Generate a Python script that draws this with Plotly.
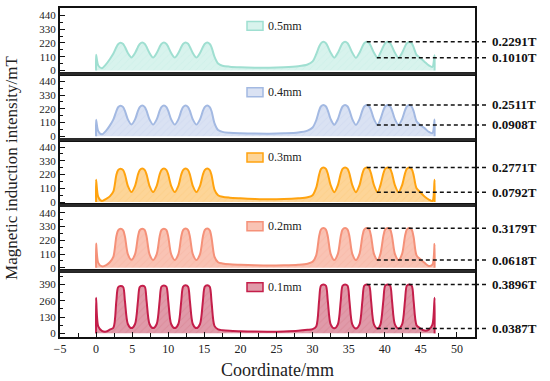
import plotly.graph_objects as go
from plotly.subplots import make_subplots

# ---------------- data ----------------
coord_mm = [0, 0, 0.3, 0.8, 1.4, 1.9,
            2.4, 2.8, 3.05, 3.4, 3.75, 4.0, 4.4, 4.9,
            5.4, 5.8, 6.05, 6.4, 6.75, 7.0, 7.4, 7.9,
            8.4, 8.8, 9.05, 9.4, 9.75, 10.0, 10.4, 10.9,
            11.4, 11.8, 12.05, 12.4, 12.75, 13.0, 13.4, 13.9,
            14.4, 14.8, 15.05, 15.4, 15.75, 16.0, 16.4, 16.9,
            17.5, 18.5, 20, 22, 24, 26, 28, 29.3, 30.0,
            30.5, 30.9, 31.15, 31.5, 31.85, 32.1, 32.5, 33.0,
            33.5, 33.9, 34.15, 34.5, 34.85, 35.1, 35.5, 36.0,
            36.5, 36.9, 37.15, 37.5, 37.85, 38.1, 38.5, 39.0,
            39.4, 39.8, 40.05, 40.4, 40.75, 41.0, 41.4, 41.9,
            42.4, 42.8, 43.05, 43.4, 43.75, 44.0, 44.4, 44.9,
            45.5, 46.1, 46.6, 46.9, 46.9]

b_05mm = [0, 125, 40, 18, 50, 90,
          135, 185, 210, 222, 212, 188, 140, 104,
          140, 188, 212, 223, 212, 188, 140, 103,
          140, 188, 212, 223, 212, 188, 140, 103,
          140, 188, 212, 224, 213, 188, 140, 103,
          140, 188, 212, 224, 212, 185, 110, 55,
          38, 30, 25, 22, 22, 26, 34, 48, 72,
          130, 190, 217, 229, 218, 192, 142, 102,
          142, 192, 218, 229, 218, 192, 142, 101,
          142, 192, 218, 229, 218, 192, 142, 101,
          142, 192, 218, 229, 218, 192, 142, 101,
          142, 192, 218, 228, 216, 185, 125, 100,
          70, 40, 28, 122, 0]

b_04mm = [0, 131, 40, 15, 45, 85,
          135, 200, 232, 245, 233, 203, 135, 94,
          135, 203, 233, 246, 233, 203, 135, 93,
          135, 203, 233, 246, 233, 203, 135, 93,
          135, 203, 233, 246, 233, 203, 135, 93,
          135, 203, 233, 246, 233, 200, 105, 50,
          35, 28, 24, 21, 20, 23, 30, 45, 70,
          128, 205, 238, 251, 238, 207, 137, 92,
          137, 207, 238, 251, 238, 207, 137, 91,
          137, 207, 238, 251, 238, 207, 137, 91,
          137, 207, 238, 251, 238, 207, 137, 91,
          137, 207, 238, 250, 236, 200, 120, 90,
          65, 35, 25, 133, 0]

b_03mm = [0, 179, 40, 8, 25, 45,
          85, 215, 255, 267, 256, 220, 130, 80,
          130, 220, 256, 268, 256, 220, 130, 80,
          130, 220, 256, 268, 256, 220, 130, 80,
          130, 220, 256, 268, 256, 220, 130, 80,
          130, 220, 256, 268, 256, 215, 100, 55,
          42, 35, 30, 25, 22, 24, 30, 38, 55,
          115, 218, 264, 277, 265, 228, 135, 79,
          135, 228, 265, 277, 265, 228, 135, 79,
          135, 228, 265, 277, 265, 228, 135, 79,
          135, 228, 265, 277, 265, 228, 135, 79,
          135, 228, 265, 277, 262, 215, 110, 80,
          45, 20, 8, 179, 0]

b_02mm = [0, 194, 40, 12, 22, 45,
          90, 250, 300, 312, 300, 250, 110, 64,
          110, 250, 302, 313, 302, 250, 110, 63,
          110, 250, 302, 313, 302, 250, 110, 63,
          110, 250, 302, 314, 302, 250, 110, 63,
          110, 250, 302, 314, 300, 240, 90, 45,
          35, 28, 24, 20, 18, 20, 25, 33, 48,
          100, 252, 306, 318, 306, 254, 112, 62,
          112, 254, 306, 318, 306, 254, 112, 62,
          112, 254, 306, 318, 306, 254, 112, 62,
          112, 254, 306, 318, 306, 254, 112, 62,
          112, 254, 306, 318, 304, 245, 100, 70,
          40, 15, 25, 190, 0]

b_01mm = [0, 284, 55, 20, 14, 30,
          45, 255, 368, 378, 370, 255, 75, 42,
          75, 258, 370, 380, 372, 258, 75, 42,
          75, 258, 372, 382, 372, 258, 75, 42,
          75, 258, 372, 383, 372, 258, 75, 42,
          75, 258, 372, 384, 372, 250, 60, 32,
          25, 20, 17, 14, 13, 15, 20, 28, 34,
          55, 260, 380, 390, 380, 262, 72, 40,
          72, 262, 380, 390, 380, 262, 72, 39,
          72, 262, 380, 390, 380, 262, 72, 39,
          72, 262, 380, 390, 380, 262, 72, 39,
          72, 262, 380, 390, 378, 255, 65, 40,
          22, 30, 70, 284, 0]

series_names = ["0.5mm", "0.4mm", "0.3mm", "0.2mm", "0.1mm"]
series_values = [b_05mm, b_04mm, b_03mm, b_02mm, b_01mm]
peak_T = [0.2291, 0.2511, 0.2771, 0.3179, 0.3896]
valley_T = [0.1010, 0.0908, 0.0792, 0.0618, 0.0387]
peak_labels = ["0.2291T", "0.2511T", "0.2771T", "0.3179T", "0.3896T"]
valley_labels = ["0.1010T", "0.0908T", "0.0792T", "0.0618T", "0.0387T"]
x_ticks = [-5, 0, 5, 10, 15, 20, 25, 30, 35, 40, 45, 50]

# ---------------- style ----------------
line_colors = ["#9fdfd1", "#a3b9e2", "#ffa30f", "#f59179", "#c41e4a"]
fill_colors = ["#d8f3ed", "#dae2f3", "#fdd598", "#f9c3b4", "#e09aa9"]
hatch_colors = ["#c8eee5", "#cbd6ee", "#fccb7e", "#f6b3a1", "#d6818f"]
y_ranges = [[-27, 500]] * 4 + [[-29, 496]]
y_tickvals = [[0, 110, 220, 330, 440]] * 4 + [[0, 130, 260, 390]]
y_minor = [55] * 4 + [65]
legend_offsets_px = [18, 18.5, 18, 21, 16]

SERIF = "Liberation Serif, Times New Roman, serif"
L, R, T, B = 60, 75, 6, 44
W, H = 550, 381
plot_h = H - T - B
plot_w = W - L - R

fig = make_subplots(rows=5, cols=1, shared_xaxes=True, vertical_spacing=0)

shapes = []
annotations = []
for i, (name, vals) in enumerate(zip(series_names, series_values)):
    row = i + 1
    fig.add_trace(go.Scatter(
        x=coord_mm, y=vals, mode="lines", name=name,
        line=dict(color=line_colors[i], width=2, shape="spline", smoothing=0.8),
        fill="tozeroy", fillcolor=fill_colors[i],
        fillpattern=dict(shape="/", bgcolor=fill_colors[i], fgcolor=hatch_colors[i],
                         size=5, solidity=0.2),
        showlegend=False, hoverinfo="skip",
    ), row=row, col=1)

    axn = "" if row == 1 else str(row)
    fig.update_yaxes(range=y_ranges[i], tickvals=y_tickvals[i], ticks="inside", ticklen=5,
                     tickwidth=1.2, tickcolor="#111",
                     minor=dict(ticks="inside", ticklen=3, dtick=y_minor[i], tickcolor="#111",
                                tick0=0),
                     showline=True, linecolor="#111", linewidth=2, mirror=True,
                     showgrid=False, zeroline=False,
                     tickfont=dict(family=SERIF, size=11, color="#222"),
                     row=row, col=1)

    # dashed reference lines (peak and valley)
    pk = peak_T[i] * 1000
    vl = valley_T[i] * 1000
    for yv, x_start in ((pk, 37.5), (vl, 38.9)):
        shapes.append(dict(type="line", xref="x" + axn, yref="y" + axn,
                           x0=x_start, x1=52.5, y0=yv, y1=yv,
                           line=dict(color="#111", width=1.5, dash="4px,3px")))
        shapes.append(dict(type="line", xref="paper", yref="y" + axn,
                           x0=1.0, x1=1.028, y0=yv, y1=yv,
                           line=dict(color="#111", width=1.5, dash="4px,3px")))
    annotations.append(dict(xref="paper", yref="y" + axn, x=1.035, y=pk,
                            text="<b>" + peak_labels[i] + "</b>", showarrow=False,
                            xanchor="left", yanchor="middle",
                            font=dict(family=SERIF, size=13, color="#111")))
    annotations.append(dict(xref="paper", yref="y" + axn, x=1.035, y=vl,
                            text="<b>" + valley_labels[i] + "</b>", showarrow=False,
                            xanchor="left", yanchor="middle",
                            font=dict(family=SERIF, size=13, color="#111")))

    # legend patch + label
    top_paper = 1 - i * 0.2
    yc = top_paper - legend_offsets_px[i] / plot_h
    hh = 4.5 / plot_h
    x0p = (247 - L) / plot_w
    x1p = (263 - L) / plot_w
    shapes.append(dict(type="rect", xref="paper", yref="paper",
                       x0=x0p, x1=x1p, y0=yc - hh, y1=yc + hh,
                       fillcolor=fill_colors[i], line=dict(color=line_colors[i], width=1.5)))
    annotations.append(dict(xref="paper", yref="paper", x=(266 - L) / plot_w, y=yc,
                            text=name, showarrow=False, xanchor="left", yanchor="middle",
                            font=dict(family=SERIF, size=12, color="#222")))

# panel separators
for k in range(1, 5):
    shapes.append(dict(type="line", xref="paper", yref="paper", x0=0, x1=1,
                       y0=k * 0.2, y1=k * 0.2, line=dict(color="#2a2a2a", width=3)))

for row in range(1, 6):
    bottom = row == 5
    fig.update_xaxes(range=[-5, 52.5], showline=True, linecolor="#111", linewidth=2,
                     mirror=True, showgrid=False, zeroline=False,
                     tickvals=x_ticks if bottom else [],
                     ticks="inside" if bottom else "", ticklen=5, tickwidth=1.2,
                     tickcolor="#111",
                     minor=dict(ticks="inside" if bottom else "", ticklen=4, dtick=2.5,
                                tick0=0, tickcolor="#111"),
                     showticklabels=bottom,
                     tickfont=dict(family=SERIF, size=12, color="#222"),
                     row=row, col=1)

annotations.append(dict(xref="paper", yref="paper", x=(12 - L) / plot_w, y=0.514,
                        text="Magnetic induction intensity/mT", textangle=-90,
                        showarrow=False, xanchor="center", yanchor="middle",
                        font=dict(family=SERIF, size=17, color="#222")))
annotations.append(dict(xref="paper", yref="paper", x=(277 - L) / plot_w,
                        y=-(370 - (H - B)) / plot_h,
                        text="Coordinate/mm", showarrow=False,
                        xanchor="center", yanchor="middle",
                        font=dict(family=SERIF, size=18, color="#222")))

fig.update_layout(width=W, height=H, margin=dict(l=L, r=R, t=T, b=B),
                  paper_bgcolor="white", plot_bgcolor="white",
                  shapes=shapes, annotations=annotations, showlegend=False,
                  hovermode=False)

fig.write_html("out.html", config={"displayModeBar": False},
               post_script="document.body.style.margin='0';document.body.style.padding='0';")
